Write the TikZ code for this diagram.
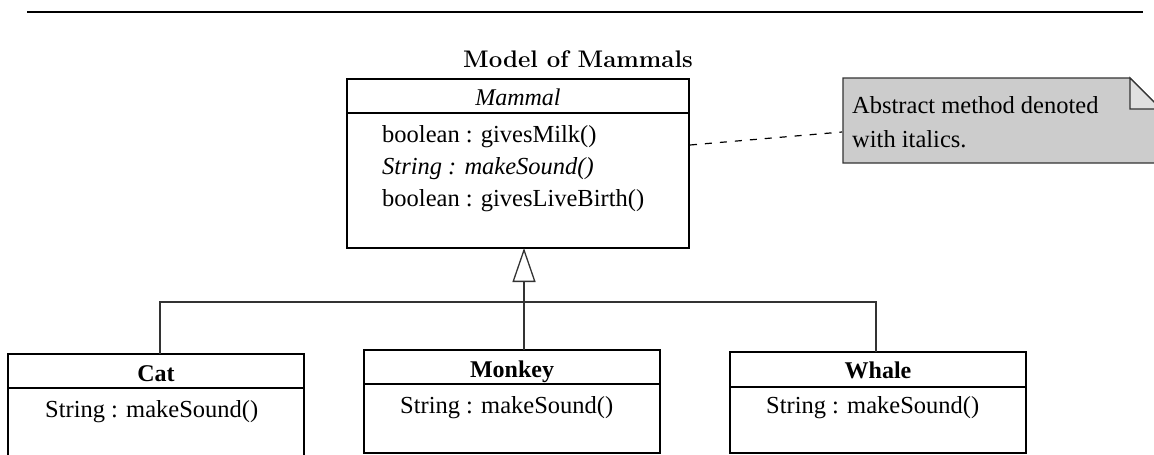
\documentclass[tikz,border=0pt]{standalone}
\usepackage{fontspec}
\newfontfamily\tnr{Liberation Serif}
\usetikzlibrary{arrows.meta}
\definecolor{notegray}{HTML}{CCCCCC}
\definecolor{linegray}{HTML}{333333}
\tikzset{
  classbox/.style={draw=black, line width=1.6pt, inner sep=0pt, fill=white},
  divider/.style={draw=black, line width=1.6pt},
  txt/.style={inner sep=0pt, font=\tnr\fontsize{24.5}{28}\selectfont},
  cname/.style={txt, anchor=base, font=\tnr\bfseries\fontsize{24}{28}\selectfont},
  member/.style={txt, anchor=base west},
  conn/.style={draw=linegray, line width=1.3pt},
  inherit/.style={conn, -{Triangle[open, length=34pt, width=23pt, line width=1.3pt]}},
  notedash/.style={draw=black, line width=1.2pt, dash pattern=on 7pt off 8pt},
}
\begin{document}
\begin{tikzpicture}[x=1pt, y=-1pt]
\useasboundingbox (0,0) rectangle (1154,455);
% top rule
\coordinate (r1) at (27,12);
\coordinate (r2) at (1143,12);
\draw[line width=1.6pt] (r1) -- (r2);
% title
\node[inner sep=0pt, anchor=base, font=\bfseries\fontsize{24}{28}\selectfont] (title) at (578,67) {Model of Mammals};

% Mammal
\node[classbox, minimum width=342pt, minimum height=169pt] (mammal) at (518,163.5) {};
\draw[divider] (347,113) -- (689,113);
\node[txt, anchor=base, font=\tnr\itshape\fontsize{24}{28}\selectfont] (mname) at (518,105) {Mammal};
\node[member] (m1) at (382,142) {boolean : givesMilk()};
\node[member, font=\tnr\itshape\fontsize{24.5}{28}\selectfont] (m2) at (382,174) {String : makeSound()};
\node[member] (m3) at (382,206) {boolean : givesLiveBirth()};

% Note
\coordinate (nA) at (843,78);
\coordinate (nB) at (1130,78);
\coordinate (nC) at (1161,109);
\coordinate (nD) at (1161,163);
\coordinate (nE) at (843,163);
\draw[draw=linegray, line width=1.3pt, fill=notegray] (nA) -- (nB) -- (nC) -- (nD) -- (nE) -- cycle;
\draw[draw=linegray, line width=1.3pt, fill=notegray!60] (nB) -- (1130,109) -- (nC) -- cycle;
\node[member] (n1) at (852,113) {Abstract method denoted};
\node[member] (n2) at (852,147) {with italics.};
\coordinate (d1) at (690,145);
\coordinate (d2) at (842,132);
\draw[notedash] (d1) -- (d2);

% Subclasses
\node[classbox, minimum width=296pt, minimum height=110pt] (cat) at (156,409) {};
\draw[divider] (8,388) -- (304,388);
\node[cname] (catname) at (156,381) {Cat};
\node[member] (c1) at (45,417) {String : makeSound()};

\node[classbox, minimum width=296pt, minimum height=103pt] (monkey) at (512,401.5) {};
\draw[divider] (364,384) -- (660,384);
\node[cname] (monkeyname) at (512,377) {Monkey};
\node[member] (k1) at (400,413) {String : makeSound()};

\node[classbox, minimum width=296pt, minimum height=101pt] (whale) at (878,402.5) {};
\draw[divider] (730,387) -- (1026,387);
\node[cname] (whalename) at (878,378) {Whale};
\node[member] (w1) at (766,413) {String : makeSound()};

% inheritance connectors
\coordinate (catTop) at (160,354);
\coordinate (whaleTop) at (876,352);
\coordinate (monkeyTop) at (524,350);
\coordinate (mammalBot) at (524,248);
\coordinate (bus) at (524,302);
\draw[conn] (catTop) |- (bus) -| (whaleTop);
\draw[inherit] (monkeyTop) -- (mammalBot);
\end{tikzpicture}
\end{document}
